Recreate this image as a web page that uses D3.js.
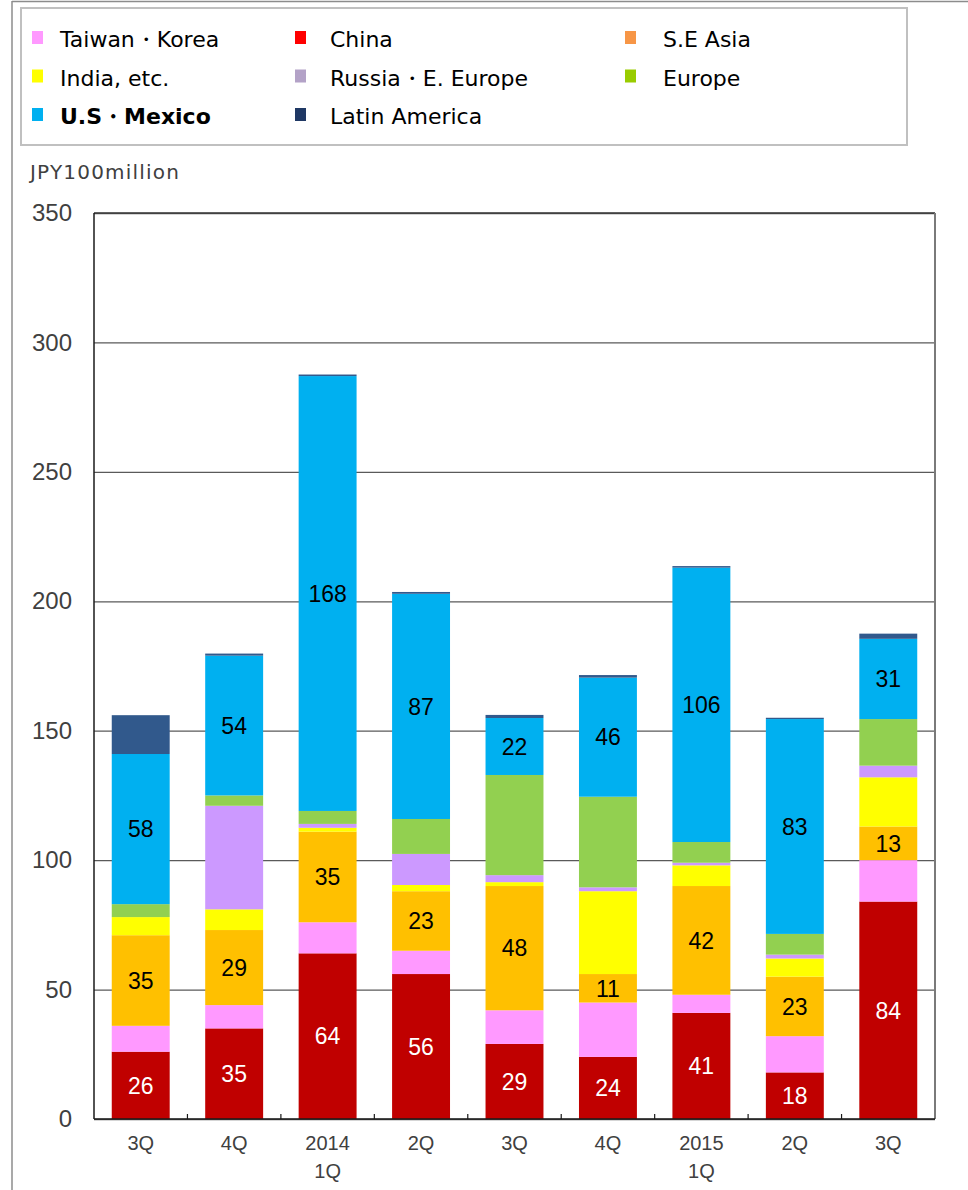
<!DOCTYPE html>
<html>
<head>
<meta charset="utf-8">
<script src="https://cdn.jsdelivr.net/npm/d3@7"></script>
<style>
  html, body { margin: 0; padding: 0; background: #fff; }
  svg { display: block; }
</style>
</head>
<body>
<svg id="chart" width="968" height="1190"></svg>
<script>
// Quarter categories (two-line labels on the x axis)
const quarters = ["2013-3Q", "2013-4Q", "2014-1Q", "2014-2Q", "2014-3Q", "2014-4Q", "2015-1Q", "2015-2Q", "2015-3Q"];
const quarterLine1 = ["3Q", "4Q", "2014", "2Q", "3Q", "4Q", "2015", "2Q", "3Q"];
const quarterLine2 = ["", "", "1Q", "", "", "", "1Q", "", ""];

// Sales by region, JPY100million (stacked bottom to top)
const china        = [26, 35, 64, 56, 29, 24, 41, 18, 84];
const taiwanKorea  = [10, 9, 12, 9, 13, 21, 7, 14, 16];
const seAsia       = [35, 29, 35, 23, 48, 11, 42, 23, 13];
const india        = [7, 8, 1.5, 2.4, 1.5, 32, 8, 7, 19];
const russia       = [0, 40, 1.5, 12, 2.7, 1.5, 1, 1.5, 4.5];
const europe       = [5, 4, 5, 13.5, 38.7, 35, 8, 8, 18];
const usMexico     = [58, 54, 168, 87, 22, 46, 106, 83, 31];
const latinAmerica = [15, 0.8, 0.6, 0.7, 1.2, 1, 0.6, 0.5, 2];

// Y axis ticks
const yTicks = [0, 50, 100, 150, 200, 250, 300, 350];

// Series definitions: stacking order, bar colour, legend swatch colour, whether values are printed
const series = [
  { key: "china",   name: "China",             values: china,        fill: "#C00000", swatch: "#FF0000", label: true,  labelColor: "#ffffff" },
  { key: "tk",      name: "Taiwan・Korea",      values: taiwanKorea,  fill: "#FF99FF", swatch: "#FF99FF", label: false },
  { key: "sea",     name: "S.E Asia",          values: seAsia,       fill: "#FFC000", swatch: "#F79646", label: true,  labelColor: "#000000" },
  { key: "india",   name: "India, etc.",       values: india,        fill: "#FFFF00", swatch: "#FFFF00", label: false },
  { key: "russia",  name: "Russia・E. Europe",  values: russia,       fill: "#CC99FF", swatch: "#B3A2C7", label: false },
  { key: "europe",  name: "Europe",            values: europe,       fill: "#92D050", swatch: "#99CC00", label: false },
  { key: "us",      name: "U.S・Mexico",        values: usMexico,     fill: "#00B0F0", swatch: "#00B0F0", label: true,  labelColor: "#000000", bold: true },
  { key: "latin",   name: "Latin America",     values: latinAmerica, fill: "#31598C", swatch: "#1F3864", label: false }
];

// Legend layout: order of entries in the 3-column grid
const legendOrder = ["tk", "china", "sea", "india", "russia", "europe", "us", "latin"];

const svg = d3.select("#chart");

// Outer frame lines
svg.append("line").attr("x1", 12).attr("x2", 968).attr("y1", 1.5).attr("y2", 1.5)
  .attr("stroke", "#8c8c8c").attr("stroke-width", 1.5);
svg.append("line").attr("x1", 12).attr("x2", 12).attr("y1", 1).attr("y2", 1190)
  .attr("stroke", "#8c8c8c").attr("stroke-width", 1.5);

// Legend box
svg.append("rect").attr("x", 21).attr("y", 8).attr("width", 886).attr("height", 137)
  .attr("fill", "#fff").attr("stroke", "#c0c0c0").attr("stroke-width", 2);

const colX = [32, 295, 625];
const textX = [60, 330, 663];
const rowY = [47, 85.5, 124];
legendOrder.forEach((k, i) => {
  const s = series.find(d => d.key === k);
  const col = i % 3, row = Math.floor(i / 3);
  svg.append("rect")
    .attr("x", colX[col]).attr("y", rowY[row] - 16)
    .attr("width", 11).attr("height", 13)
    .attr("fill", s.swatch);
  svg.append("text")
    .attr("x", textX[col]).attr("y", rowY[row])
    .attr("font-family", "DejaVu Sans, sans-serif")
    .attr("font-size", 22)
    .attr("font-weight", s.bold ? "bold" : "normal")
    .attr("fill", "#000")
    .text(s.name);
});

// Unit label
svg.append("text")
  .attr("x", 30).attr("y", 179)
  .attr("font-family", "DejaVu Sans, sans-serif")
  .attr("font-size", 20)
  .attr("letter-spacing", 1.2)
  .attr("fill", "#404040")
  .text("JPY100million");

// Plot area
const plot = { left: 94, right: 935, top: 213, bottom: 1119 };

const x = d3.scaleBand()
  .domain(quarters)
  .range([plot.left, plot.right])
  .paddingInner(0.38)
  .paddingOuter(0.19);

const y = d3.scaleLinear()
  .domain([0, 350])
  .range([plot.bottom, plot.top]);

// Gridlines and y tick labels via axis
const yAxis = d3.axisLeft(y)
  .tickValues(yTicks)
  .tickSize(-(plot.right - plot.left))
  .tickPadding(22)
  .tickFormat(d3.format("d"));

const yg = svg.append("g")
  .attr("transform", `translate(${plot.left},0)`)
  .call(yAxis);
yg.select(".domain").remove();
yg.selectAll(".tick line").attr("stroke", "#5a5a5a").attr("stroke-width", 1.3);
yg.selectAll(".tick text")
  .attr("font-family", "Liberation Sans, Arial, sans-serif")
  .attr("font-size", 24)
  .attr("fill", "#404040");

// Stacked bars
const stack = d3.stack()
  .keys(series.map(s => s.key))
  .value((d, key) => d[key]);

const rows = quarters.map((q, i) => {
  const r = { quarter: q };
  series.forEach(s => { r[s.key] = s.values[i]; });
  return r;
});
const stacked = stack(rows);

const layers = svg.append("g").selectAll("g")
  .data(stacked)
  .join("g")
  .attr("fill", d => series.find(s => s.key === d.key).fill);

layers.selectAll("rect")
  .data(d => d)
  .join("rect")
  .attr("x", d => x(d.data.quarter))
  .attr("width", x.bandwidth())
  .attr("y", d => y(d[1]))
  .attr("height", d => Math.max(0, y(d[0]) - y(d[1])));

// Plot border (top and right), axes lines (left and bottom)
svg.append("line").attr("x1", plot.left).attr("x2", plot.right).attr("y1", plot.top).attr("y2", plot.top)
  .attr("stroke", "#3a3a3a").attr("stroke-width", 1.5);
svg.append("line").attr("x1", plot.right).attr("x2", plot.right).attr("y1", plot.top).attr("y2", plot.bottom)
  .attr("stroke", "#7a7a7a").attr("stroke-width", 2);
svg.append("line").attr("x1", plot.left).attr("x2", plot.left).attr("y1", plot.top).attr("y2", plot.bottom)
  .attr("stroke", "#1a1a1a").attr("stroke-width", 1.5);
svg.append("line").attr("x1", plot.left).attr("x2", plot.right).attr("y1", plot.bottom).attr("y2", plot.bottom)
  .attr("stroke", "#1a1a1a").attr("stroke-width", 1.5);

// X tick marks between categories (pointing inward)
const halfGap = x.step() * x.paddingInner() / 2;
quarters.slice(1).forEach(q => {
  const tx = x(q) - halfGap;
  svg.append("line")
    .attr("x1", tx).attr("x2", tx)
    .attr("y1", plot.bottom).attr("y2", plot.bottom - 5)
    .attr("stroke", "#1a1a1a").attr("stroke-width", 1.2);
});

// X labels (two lines)
const xl = svg.append("g")
  .attr("font-family", "Liberation Sans, Arial, sans-serif")
  .attr("font-size", 20)
  .attr("fill", "#404040")
  .attr("text-anchor", "middle");
quarters.forEach((q, i) => {
  const cx = x(q) + x.bandwidth() / 2;
  xl.append("text").attr("x", cx).attr("y", 1150).text(quarterLine1[i]);
  if (quarterLine2[i]) xl.append("text").attr("x", cx).attr("y", 1178).text(quarterLine2[i]);
});

// Value labels centred in labelled segments
const lab = svg.append("g")
  .attr("font-family", "Liberation Sans, Arial, sans-serif")
  .attr("font-size", 23)
  .attr("text-anchor", "middle");
stacked.forEach(layer => {
  const s = series.find(d => d.key === layer.key);
  if (!s.label) return;
  layer.forEach(d => {
    lab.append("text")
      .attr("x", x(d.data.quarter) + x.bandwidth() / 2)
      .attr("y", (y(d[0]) + y(d[1])) / 2)
      .attr("dy", "0.36em")
      .attr("fill", s.labelColor)
      .text(d3.format("d")(d[1] - d[0]));
  });
});
</script>
</body>
</html>
